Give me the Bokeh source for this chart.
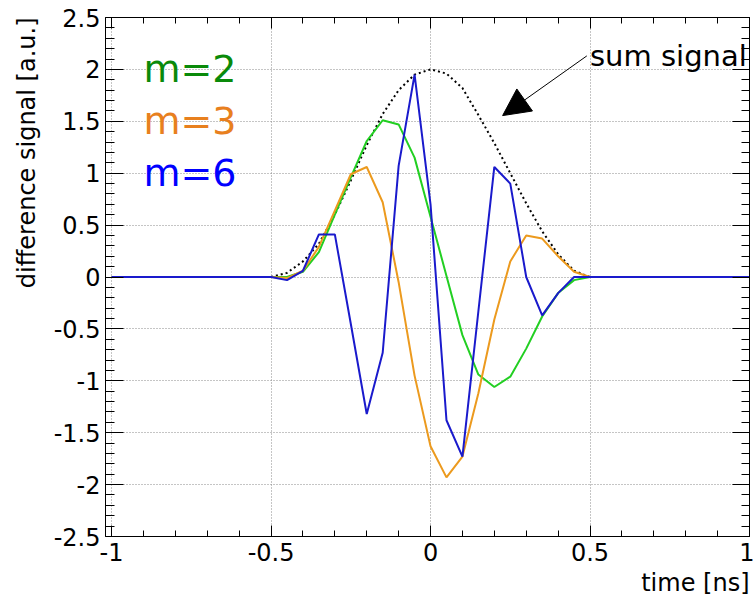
import numpy as np
from bokeh.plotting import figure
from bokeh.models import (ColumnDataSource, FixedTicker, LinearAxis, Title, Arrow,
                          NormalHead, Range1d)
from bokeh.core.properties import value
from bokeh.embed import file_html
from bokeh.resources import INLINE

# ---------------- data ----------------
time_ns = [-1.0, -0.5, -0.45, -0.4, -0.35, -0.3, -0.25, -0.2, -0.15, -0.1, -0.05,
           0.0, 0.05, 0.1, 0.15, 0.2, 0.25, 0.3, 0.35, 0.4, 0.45, 0.5, 1.0]
diff_m2 = [0.0, 0.0, 0.0, 0.05, 0.24, 0.60, 0.96, 1.31, 1.51, 1.47, 1.15,
           0.58, 0.01, -0.56, -0.94, -1.06, -0.96, -0.69, -0.38, -0.155, -0.03, 0.0, 0.0]
diff_m3 = [0.0, 0.0, -0.01, 0.06, 0.29, 0.64, 0.99, 1.06, 0.72, -0.05, -0.95,
           -1.63, -1.93, -1.73, -1.12, -0.41, 0.15, 0.40, 0.37, 0.20, 0.05, 0.0, 0.0]
diff_m6 = [0.0, 0.0, -0.03, 0.06, 0.41, 0.41, -0.45, -1.32, -0.73, 1.07, 1.95,
           0.70, -1.38, -1.73, -0.33, 1.06, 0.90, 0.0, -0.37, -0.155, 0.0, 0.0, 0.0]

sum_time = [-0.5, -0.45, -0.4, -0.35, -0.3, -0.25, -0.2, -0.15, -0.1, -0.05, 0.0,
            0.05, 0.1, 0.15, 0.2, 0.25, 0.3, 0.35, 0.4, 0.45, 0.5]
sum_signal = [0.0, 0.04, 0.15, 0.32, 0.60, 0.93, 1.27, 1.57, 1.80, 1.95, 2.0,
              1.96, 1.82, 1.56, 1.29, 1.0, 0.71, 0.44, 0.22, 0.06, 0.0]

legend_labels = ["m=2", "m=3", "m=6"]
legend_x = [-0.9, -0.9, -0.9]
legend_y = [2.0, 1.5, 1.0]

sum_label = ["sum signal"]
sum_label_x = [0.5]
sum_label_y = [2.13]
arrow_from = (0.49, 2.13)
arrow_to = (0.226, 1.555)

x_tick_values = [-1.0, -0.5, 0.0, 0.5, 1.0]
x_tick_labels = ["-1", "-0.5", "0", "0.5", "1"]
y_tick_values = [-2.5, -2.0, -1.5, -1.0, -0.5, 0.0, 0.5, 1.0, 1.5, 2.0, 2.5]
y_tick_labels = ["-2.5", "-2", "-1.5", "-1", "-0.5", "0", "0.5", "1", "1.5", "2", "2.5"]
x_minor = [round(v, 2) for v in np.linspace(-1.0, 1.0, 21)]
y_minor = [round(v, 2) for v in np.linspace(-2.5, 2.5, 51)]

x_title = "time [ns]"
y_title = "difference signal [a.u.]"

# ---------------- styles ----------------
FONT = "DejaVu Sans"
c_m2_line, c_m3_line, c_m6_line = "#22cf22", "#ec9a1e", "#1a1acc"
legend_colors = ["#0a8a0a", "#e8801e", "#0000ff"]

X0, X1 = -1.019, 1.0
Y0, Y1 = -2.5, 2.5

p = figure(width=754, height=599, x_range=Range1d(X0, X1), y_range=Range1d(Y0, Y1),
           output_backend="svg", toolbar_location=None,
           min_border_left=105, min_border_right=5, min_border_top=17, min_border_bottom=62)
p.outline_line_color = None
p.background_fill_color = "white"
p.border_fill_color = "white"


def style_axis(ax, ticks, minor, labels, major_len, minor_len, show_labels):
    ax.ticker = FixedTicker(ticks=ticks, minor_ticks=minor)
    ax.major_tick_in = major_len
    ax.major_tick_out = 0
    ax.minor_tick_in = minor_len
    ax.minor_tick_out = 0
    ax.axis_line_color = "black"
    ax.major_tick_line_color = "black"
    ax.minor_tick_line_color = "black"
    ax.axis_line_width = 1
    if show_labels:
        ax.major_label_overrides = dict(zip(ticks, labels))
        ax.major_label_text_font = FONT
        ax.major_label_text_font_size = "24px"
        ax.major_label_text_color = "black"
    else:
        ax.major_label_text_font_size = "1px"
        ax.major_label_text_color = None
        ax.major_label_standoff = 0


xb = p.xaxis[0]
style_axis(xb, x_tick_values, x_minor, x_tick_labels, 11, 6, True)
xb.major_label_standoff = 6
yl = p.yaxis[0]
style_axis(yl, y_tick_values, y_minor, y_tick_labels, 18, 9, True)
yl.major_label_standoff = 5

xt = LinearAxis()
style_axis(xt, x_tick_values, x_minor, x_tick_labels, 11, 6, False)
p.add_layout(xt, "above")
yr = LinearAxis()
style_axis(yr, y_tick_values, y_minor, y_tick_labels, 17, 8, False)
p.add_layout(yr, "right")

p.xgrid.ticker = FixedTicker(ticks=x_tick_values)
p.ygrid.ticker = FixedTicker(ticks=y_tick_values)
for g in (p.xgrid, p.ygrid):
    g.grid_line_color = "#8a8a8a"
    g.grid_line_dash = "1 2"
    g.grid_line_width = 1

# ---------------- axis titles (right / top aligned, ROOT style) ----------------
p.add_layout(Title(text=x_title, align="right", text_font=FONT, text_font_size="24px",
                   text_font_style="normal", text_color="black", standoff=6), "below")
p.add_layout(Title(text=y_title, align="right", text_font=FONT, text_font_size="24px",
                   text_font_style="normal", text_color="black", standoff=19), "left")

# ---------------- curves ----------------
src = ColumnDataSource(dict(t=time_ns, m2=diff_m2, m3=diff_m3, m6=diff_m6))
ssrc = ColumnDataSource(dict(t=sum_time, s=sum_signal))
p.line("t", "s", source=ssrc, line_color="black", line_width=2, line_dash="2 3")
p.line("t", "m2", source=src, line_color=c_m2_line, line_width=2)
p.line("t", "m3", source=src, line_color=c_m3_line, line_width=2)
p.line("t", "m6", source=src, line_color=c_m6_line, line_width=2)

# ---------------- texts ----------------
lsrc = ColumnDataSource(dict(x=legend_x, y=legend_y, text=legend_labels, color=legend_colors))
p.text(x="x", y="y", text="text", text_color="color", source=lsrc,
       text_font=value(FONT), text_font_size=value("38px"),
       text_baseline="alphabetic", text_align="left")

p.text(x=sum_label_x, y=sum_label_y, text=sum_label, text_color="black",
       text_font=value(FONT), text_font_size=value("29px"),
       text_baseline="alphabetic", text_align="left")

p.add_layout(Arrow(end=NormalHead(size=27, fill_color="black", line_color="black", line_width=1),
                   x_start=arrow_from[0], y_start=arrow_from[1],
                   x_end=arrow_to[0], y_end=arrow_to[1],
                   line_color="black", line_width=1))

open("out.html", "w").write(file_html(p, INLINE))
